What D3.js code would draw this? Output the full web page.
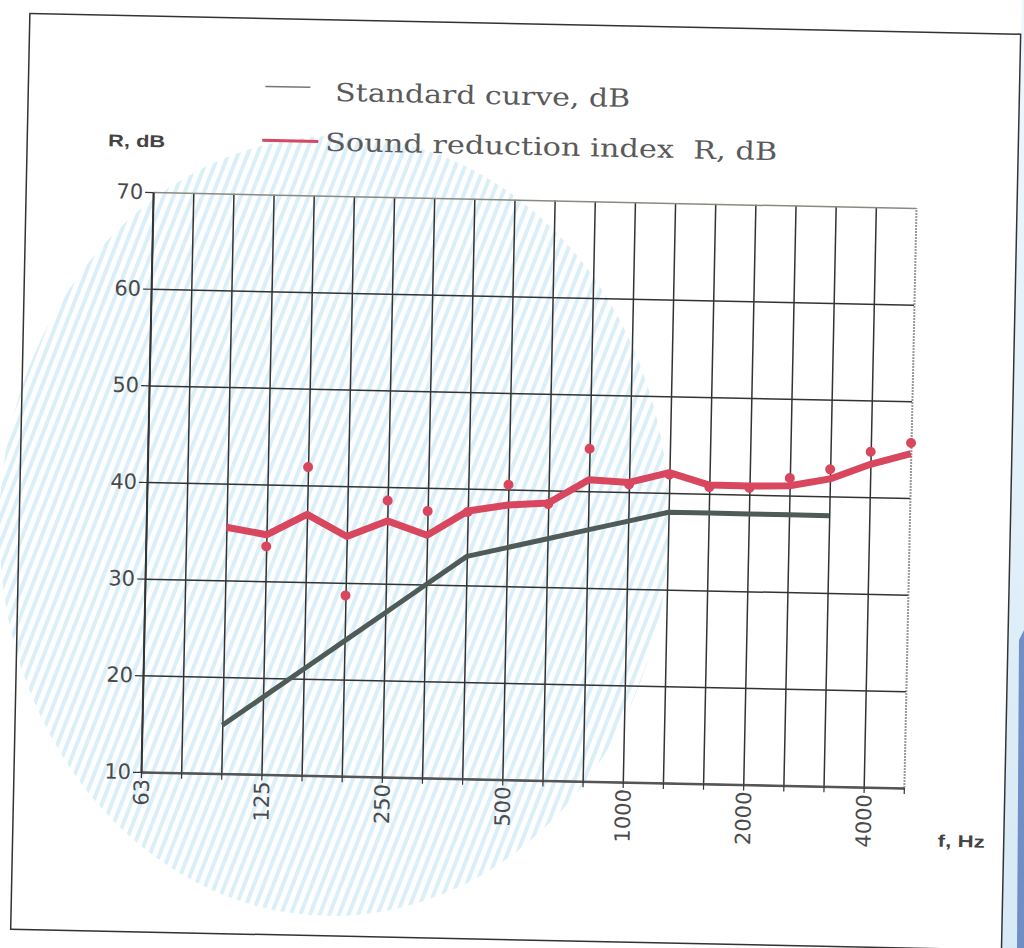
<!DOCTYPE html>
<html>
<head>
<meta charset="utf-8">
<script src="https://cdn.jsdelivr.net/npm/d3@7"></script>
<style>
  body { margin: 0; background: #fff; }
  svg { display: block; }
</style>
</head>
<body>
<svg id="chart" width="1024" height="948"></svg>
<script>
// 1/3 octave bands on the x axis
var freqs = [63, 80, 100, 125, 160, 200, 250, 315, 400, 500, 630, 800, 1000, 1250, 1600, 2000, 2500, 3150, 4000, 5000];
var freqLabels = [63, 125, 250, 500, 1000, 2000, 4000];
var yTicks = [10, 20, 30, 40, 50, 60, 70];

// standard (reference) curve, dB
var standardFreqs = [100, 125, 160, 200, 250, 315, 400, 500, 630, 800, 1000, 1250, 1600, 2000, 2500, 3150];
var standardValues = [15, 18, 21, 24, 27, 30, 33, 34, 35, 36, 37, 38, 38, 38, 38, 38];

// sound reduction index R, dB (thick red line)
var indexFreqs = [100, 125, 160, 200, 250, 315, 400, 500, 630, 800, 1000, 1250, 1600, 2000, 2500, 3150, 4000, 5000];
var indexValues = [35.5, 34.8, 37.0, 34.8, 36.5, 35.1, 37.7, 38.4, 38.7, 41.2, 41.0, 42.1, 40.9, 40.9, 41.0, 41.8, 43.4, 44.6];

// measured points (red dots)
var pointFreqs = [125, 160, 200, 250, 315, 400, 500, 630, 800, 1000, 1250, 1600, 2000, 2500, 3150, 4000, 5000];
var pointValues = [33.6, 41.9, 28.7, 38.6, 37.6, 37.6, 40.5, 38.6, 44.4, 40.8, 41.9, 40.7, 40.7, 41.8, 42.8, 44.7, 45.7];

var legendText1 = "Standard curve, dB";
var legendText2 = "Sound reduction index  R, dB";

var red = "#d9475f";
var grey = "#4f5b57";
var labelFont = "'DejaVu Sans', Verdana, sans-serif";

var svg = d3.select("#chart");
var defs = svg.append("defs");

// hatched blue watermark
defs.append("pattern")
  .attr("id", "hatch")
  .attr("patternUnits", "userSpaceOnUse")
  .attr("width", 9)
  .attr("height", 9)
  .attr("patternTransform", "rotate(20)")
  .append("rect")
  .attr("width", 4)
  .attr("height", 9)
  .attr("fill", "#dbeff9");

var scanGrad = defs.append("linearGradient")
  .attr("id", "scan")
  .attr("x1", 0).attr("y1", 0).attr("x2", 0).attr("y2", 1);
scanGrad.append("stop").attr("offset", "0%").attr("stop-color", "#eef7fc");
scanGrad.append("stop").attr("offset", "100%").attr("stop-color", "#d6e9f6");

// scanner edge right of the paper
svg.append("polygon")
  .attr("points", "1022,0 1024,0 1024,948 1002,948")
  .attr("fill", "url(#scan)");
svg.append("polygon")
  .attr("points", "1019,640 1024,630 1024,948 1017,948")
  .attr("fill", "#5677b8")
  .attr("opacity", 0.8);

// the scan is slightly tilted
var page = svg.append("g").attr("transform", "rotate(1.2,528,490)");

page.append("ellipse")
  .attr("cx", 335).attr("cy", 530)
  .attr("rx", 335).attr("ry", 390)
  .attr("fill", "url(#hatch)");

page.append("rect")
  .attr("x", 20).attr("y", 24)
  .attr("width", 991).attr("height", 916)
  .attr("fill", "none")
  .attr("stroke", "#333")
  .attr("stroke-width", 1.5);

var x = d3.scalePoint().domain(freqs).range([147, 910]);
var y = d3.scaleLinear().domain([10, 70]).range([780, 200]);

// vertical grid
var gx = page.append("g")
  .attr("transform", "translate(0,780)")
  .call(d3.axisBottom(x).tickSize(-580).tickFormat(""));
gx.select(".domain").remove();
gx.selectAll(".tick line")
  .attr("stroke", function(d){ return d == 5000 ? "#999" : "#333"; })
  .attr("stroke-width", function(d){ return d == 5000 ? 2 : 1.5; })
  .attr("stroke-dasharray", function(d){ return d == 5000 ? "2,1" : null; });

// horizontal grid
var gy = page.append("g")
  .attr("transform", "translate(147,0)")
  .call(d3.axisLeft(y).tickValues(yTicks).tickSize(-763).tickFormat(""));
gy.select(".domain").remove();
gy.selectAll(".tick line")
  .attr("stroke", function(d){ return d == 70 ? "#8a8a80" : "#333"; })
  .attr("stroke-width", 1.5);

// x axis with short ticks and rotated labels
var xAxis = page.append("g")
  .attr("transform", "translate(0,780)")
  .call(d3.axisBottom(x).tickSize(6).tickSizeOuter(0)
    .tickFormat(function(d){ return freqLabels.indexOf(d) >= 0 ? d : ""; }));
xAxis.select(".domain").attr("stroke", "#555").attr("stroke-width", 2.5);
xAxis.selectAll(".tick line").attr("stroke", "#333").attr("stroke-width", 1.2);
xAxis.selectAll(".tick text")
  .attr("transform", "rotate(-90)")
  .attr("x", -7)
  .attr("y", 0)
  .attr("dy", "0.36em")
  .attr("text-anchor", "end")
  .attr("fill", "#4a4a4a")
  .style("font-family", labelFont)
  .style("font-size", "21px");

// y axis
var yAxis = page.append("g")
  .attr("transform", "translate(147,0)")
  .call(d3.axisLeft(y).tickValues(yTicks).tickSize(8).tickSizeOuter(0));
yAxis.select(".domain").attr("stroke", "#333").attr("stroke-width", 2);
yAxis.selectAll(".tick line").attr("stroke", "#333").attr("stroke-width", 1.2);
yAxis.selectAll(".tick text")
  .attr("x", -10)
  .attr("fill", "#4a4a4a")
  .style("font-family", labelFont)
  .style("font-size", "21px");

var line = d3.line()
  .x(function(d){ return x(d[0]); })
  .y(function(d){ return y(d[1]); });

page.append("path")
  .datum(d3.zip(standardFreqs, standardValues))
  .attr("d", line)
  .attr("fill", "none")
  .attr("stroke", grey)
  .attr("stroke-width", 5)
  .attr("stroke-linejoin", "round");

page.append("path")
  .datum(d3.zip(indexFreqs, indexValues))
  .attr("d", line)
  .attr("fill", "none")
  .attr("stroke", red)
  .attr("stroke-width", 7)
  .attr("stroke-linejoin", "round");

page.selectAll("circle.pt")
  .data(d3.zip(pointFreqs, pointValues))
  .enter()
  .append("circle")
  .attr("class", "pt")
  .attr("cx", function(d){ return x(d[0]); })
  .attr("cy", function(d){ return y(d[1]); })
  .attr("r", 5)
  .attr("fill", red);

// legend
page.append("line")
  .attr("x1", 257).attr("x2", 302)
  .attr("y1", 92).attr("y2", 92)
  .attr("stroke", "#777").attr("stroke-width", 1.5);
page.append("line")
  .attr("x1", 255).attr("x2", 311)
  .attr("y1", 146).attr("y2", 146)
  .attr("stroke", red).attr("stroke-width", 3);

page.append("text")
  .attr("x", 327).attr("y", 105)
  .attr("textLength", 295)
  .attr("lengthAdjust", "spacingAndGlyphs")
  .attr("fill", "#5a5a5a")
  .style("font-family", "'DejaVu Serif', 'Liberation Serif', serif")
  .style("font-size", "25px")
  .text(legendText1);
page.append("text")
  .attr("x", 318).attr("y", 155)
  .attr("textLength", 452)
  .attr("lengthAdjust", "spacingAndGlyphs")
  .attr("fill", "#5a5a5a")
  .style("font-family", "'DejaVu Serif', 'Liberation Serif', serif")
  .style("font-size", "25px")
  .style("white-space", "pre")
  .text(legendText2);

// axis titles
page.append("text")
  .attr("x", 101).attr("y", 155)
  .attr("textLength", 57)
  .attr("lengthAdjust", "spacingAndGlyphs")
  .attr("fill", "#444")
  .style("font-family", "'Liberation Sans', Arial, sans-serif")
  .style("font-weight", "bold")
  .style("font-size", "17px")
  .text("R, dB");
page.append("text")
  .attr("x", 945).attr("y", 838)
  .attr("textLength", 47)
  .attr("lengthAdjust", "spacingAndGlyphs")
  .attr("fill", "#444")
  .style("font-family", "'Liberation Sans', Arial, sans-serif")
  .style("font-weight", "bold")
  .style("font-size", "17px")
  .text("f, Hz");
</script>
</body>
</html>
